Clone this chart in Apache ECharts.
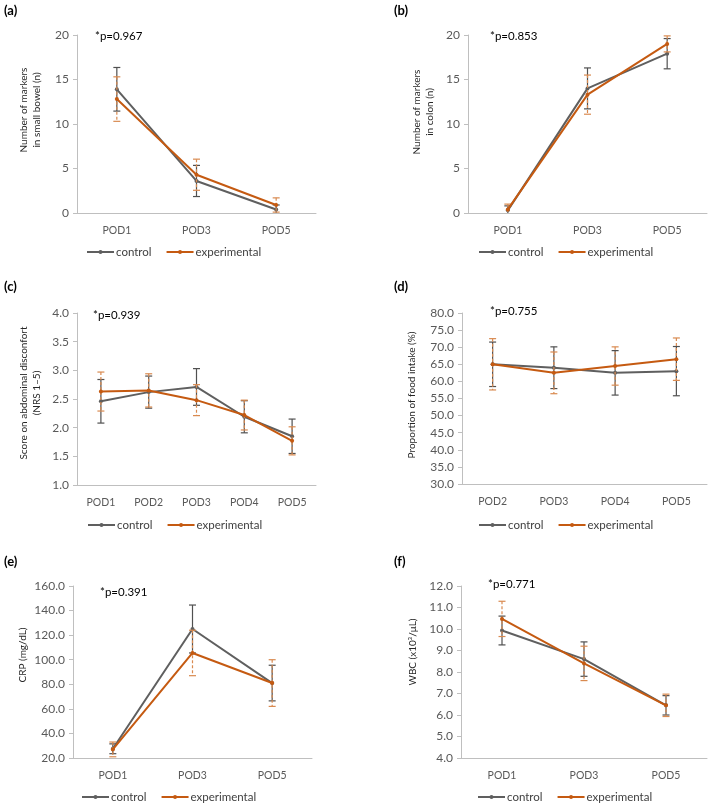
<!DOCTYPE html>
<html>
<head>
<meta charset="utf-8">
<script src="https://cdn.jsdelivr.net/npm/echarts@6/dist/echarts.min.js"></script>
<style>
html,body{margin:0;padding:0;background:#fff;}
#chart{width:710px;height:807px;}
</style>
</head>
<body>
<div id="chart"></div>
<script>
// ---- Data ----
const catsA = ['POD1', 'POD3', 'POD5'];
const ctrlA = [13.9, 3.6, 0.4];
const ctrlErrA = [2.45, 1.75, 0.5];
const expA = [12.8, 4.3, 0.9];
const expErrA = [2.5, 1.75, 0.8];

const catsB = ['POD1', 'POD3', 'POD5'];
const ctrlB = [0.3, 14.0, 17.9];
const ctrlErrB = [0.5, 2.3, 1.7];
const expB = [0.4, 13.3, 19.0];
const expErrB = [0.6, 2.2, 0.9];

const catsC = ['POD1', 'POD2', 'POD3', 'POD4', 'POD5'];
const ctrlC = [2.46, 2.62, 2.71, 2.19, 1.85];
const ctrlErrC = [0.38, 0.28, 0.32, 0.28, 0.30];
const expC = [2.63, 2.65, 2.48, 2.22, 1.77];
const expErrC = [0.34, 0.29, 0.27, 0.26, 0.245];

const catsD = ['POD2', 'POD3', 'POD4', 'POD5'];
const ctrlD = [65.0, 64.0, 62.5, 63.0];
const ctrlErrD = [6.5, 6.1, 6.5, 7.2];
const expD = [65.0, 62.5, 64.5, 66.5];
const expErrD = [7.5, 6.1, 5.6, 6.2];

const catsE = ['POD1', 'POD3', 'POD5'];
const ctrlE = [27.5, 125.0, 81.0];
const ctrlErrE = [4.0, 19.5, 14.5];
const expE = [27.0, 105.5, 81.0];
const expErrE = [6.0, 18.5, 19.0];

const catsF = ['POD1', 'POD3', 'POD5'];
const ctrlF = [9.93, 8.6, 6.45];
const ctrlErrF = [0.67, 0.8, 0.45];
const expF = [10.47, 8.4, 6.45];
const expErrF = [0.82, 0.8, 0.52];

const panelLabels = ['(a)', '(b)', '(c)', '(d)', '(e)', '(f)'];
const pValues = ['*p=0.967', '*p=0.853', '*p=0.939', '*p=0.755', '*p=0.391', '*p=0.771'];
const yTitles = [
  'Number of markers\nin small bowel (n)',
  'Number of markers\nin colon (n)',
  'Score on abdominal disconfort\n(NRS 1\u20135)',
  'Proportion of food intake (%)',
  'CRP (mg/dL)',
  'WBC (x10\u00b3/\u03bcL)'
];
const yMin = [0, 0, 1, 30, 20, 4];
const yMax = [20, 20, 4, 80, 160, 12];
const yInterval = [5, 5, 0.5, 5, 20, 1];
const yDecimals = [0, 0, 1, 1, 1, 1];

// ---- Layout (positions only) ----
const grids = [
  {left: 77, top: 35, width: 239, height: 178},
  {left: 468, top: 35, width: 239, height: 178},
  {left: 77, top: 313, width: 239, height: 172},
  {left: 462, top: 313, width: 245, height: 171},
  {left: 73, top: 586, width: 239, height: 172},
  {left: 461, top: 586, width: 246, height: 172}
];
const labelPos = [[4, 12], [394, 12], [4, 288], [394, 288], [4, 563], [394, 563]];
const pPos = [[95, 36], [490, 36], [93, 315], [490, 311], [100, 592], [488, 584]];
const titlePos = [[30, 110], [423, 112], [30, 393], [412, 395], [23, 655], [413, 652]];
const legendPos = [[81, 253], [473, 253], [82, 526], [473, 526], [76, 798], [472, 798]];

const panels = [
  [catsA, ctrlA, ctrlErrA, expA, expErrA],
  [catsB, ctrlB, ctrlErrB, expB, expErrB],
  [catsC, ctrlC, ctrlErrC, expC, expErrC],
  [catsD, ctrlD, ctrlErrD, expD, expErrD],
  [catsE, ctrlE, ctrlErrE, expE, expErrE],
  [catsF, ctrlF, ctrlErrF, expF, expErrF]
];

const CTRL = '#5f5f5f';
const EXP = '#c55a11';
const CTRL_ERR = '#505050';
const EXP_ERR = '#d98a50';
const FONT = 'Lato, "Open Sans", sans-serif';

function errRender(color, dashed) {
  return function (params, api) {
    const x = api.value(0);
    const hi = api.coord([x, api.value(1)]);
    const lo = api.coord([x, api.value(2)]);
    const cap = 3.5;
    const style = {stroke: color, lineWidth: 1.2, lineDash: dashed ? [3, 2] : null};
    return {
      type: 'group',
      children: [
        {type: 'line', shape: {x1: hi[0], y1: hi[1], x2: lo[0], y2: lo[1]}, style: style},
        {type: 'line', shape: {x1: hi[0] - cap, y1: hi[1], x2: hi[0] + cap, y2: hi[1]}, style: {stroke: color, lineWidth: 1.2}},
        {type: 'line', shape: {x1: lo[0] - cap, y1: lo[1], x2: lo[0] + cap, y2: lo[1]}, style: {stroke: color, lineWidth: 1.2}}
      ]
    };
  };
}

const grid = [], xAxis = [], yAxis = [], series = [], legend = [], graphic = [];
const LEG_H = 5;

panels.forEach(function (p, i) {
  const cats = p[0], ctrl = p[1], ctrlErr = p[2], exp = p[3], expErr = p[4];
  grid.push(Object.assign({containLabel: false}, grids[i]));
  xAxis.push({
    type: 'category', gridIndex: i, data: cats,
    axisLine: {lineStyle: {color: '#bfbfbf', width: 1}},
    axisTick: {show: false},
    axisLabel: {color: '#595959', fontSize: 10.5, fontFamily: FONT, margin: 12}
  });
  yAxis.push({
    type: 'value', gridIndex: i, min: yMin[i], max: yMax[i], interval: yInterval[i],
    axisLine: {show: true, lineStyle: {color: '#bfbfbf', width: 1}},
    axisTick: {show: true, length: 4, lineStyle: {color: '#bfbfbf'}},
    splitLine: {show: false},
    axisLabel: {
      color: '#595959', fontSize: 12, fontFamily: FONT, margin: 8,
      formatter: (function (d) { return function (v) { return v.toFixed(d); }; })(yDecimals[i])
    }
  });
  const ctrlErrData = cats.map(function (c, k) { return [k, ctrl[k] + ctrlErr[k], ctrl[k] - ctrlErr[k]]; });
  const expErrData = cats.map(function (c, k) { return [k, exp[k] + expErr[k], exp[k] - expErr[k]]; });
  series.push({
    type: 'custom', name: 'control-err', xAxisIndex: i, yAxisIndex: i,
    renderItem: errRender(CTRL_ERR, false), data: ctrlErrData, clip: true,
    encode: {x: 0, y: [1, 2]}, z: 2, silent: true
  });
  series.push({
    type: 'line', name: 'control', xAxisIndex: i, yAxisIndex: i, data: ctrl,
    symbol: 'circle', symbolSize: 4, lineStyle: {color: CTRL, width: 2},
    itemStyle: {color: CTRL}, z: 3, animation: false
  });
  series.push({
    type: 'custom', name: 'experimental-err', xAxisIndex: i, yAxisIndex: i,
    renderItem: errRender(EXP_ERR, true), data: expErrData, clip: true,
    encode: {x: 0, y: [1, 2]}, z: 4, silent: true
  });
  series.push({
    type: 'line', name: 'experimental', xAxisIndex: i, yAxisIndex: i, data: exp,
    symbol: 'circle', symbolSize: 4, lineStyle: {color: EXP, width: 2},
    itemStyle: {color: EXP}, z: 5, animation: false
  });
  legend.push({
    left: legendPos[i][0], top: legendPos[i][1] - 12, orient: 'horizontal',
    padding: 5,
    data: ['control', 'experimental'], itemWidth: 27, itemHeight: LEG_H, itemGap: 14,
    textStyle: {color: '#404040', fontSize: 11.5, fontFamily: FONT, padding: [0, 0, 0, -3]}
  });
  graphic.push({
    type: 'text', left: labelPos[i][0], top: labelPos[i][1] - 8,
    style: {text: panelLabels[i], fontSize: 13, fontWeight: 'bold', fontFamily: FONT, fill: '#000'}
  });
  graphic.push({
    type: 'text', x: pPos[i][0], y: pPos[i][1],
    style: {text: pValues[i], fontSize: 11.5, fontFamily: FONT, fill: '#000', textVerticalAlign: 'middle', textAlign: 'left'}
  });
  graphic.push({
    type: 'text', x: titlePos[i][0], y: titlePos[i][1], rotation: Math.PI / 2,
    style: {text: yTitles[i], fontSize: 10, fontFamily: FONT, fill: '#262626', textAlign: 'center', textVerticalAlign: 'middle', lineHeight: 13}
  });
});

const chart = echarts.init(document.getElementById('chart'), null, {renderer: 'canvas'});
chart.setOption({
  animation: false,
  backgroundColor: '#ffffff',
  grid: grid, xAxis: xAxis, yAxis: yAxis, series: series, legend: legend, graphic: graphic
});
</script>
</body>
</html>
